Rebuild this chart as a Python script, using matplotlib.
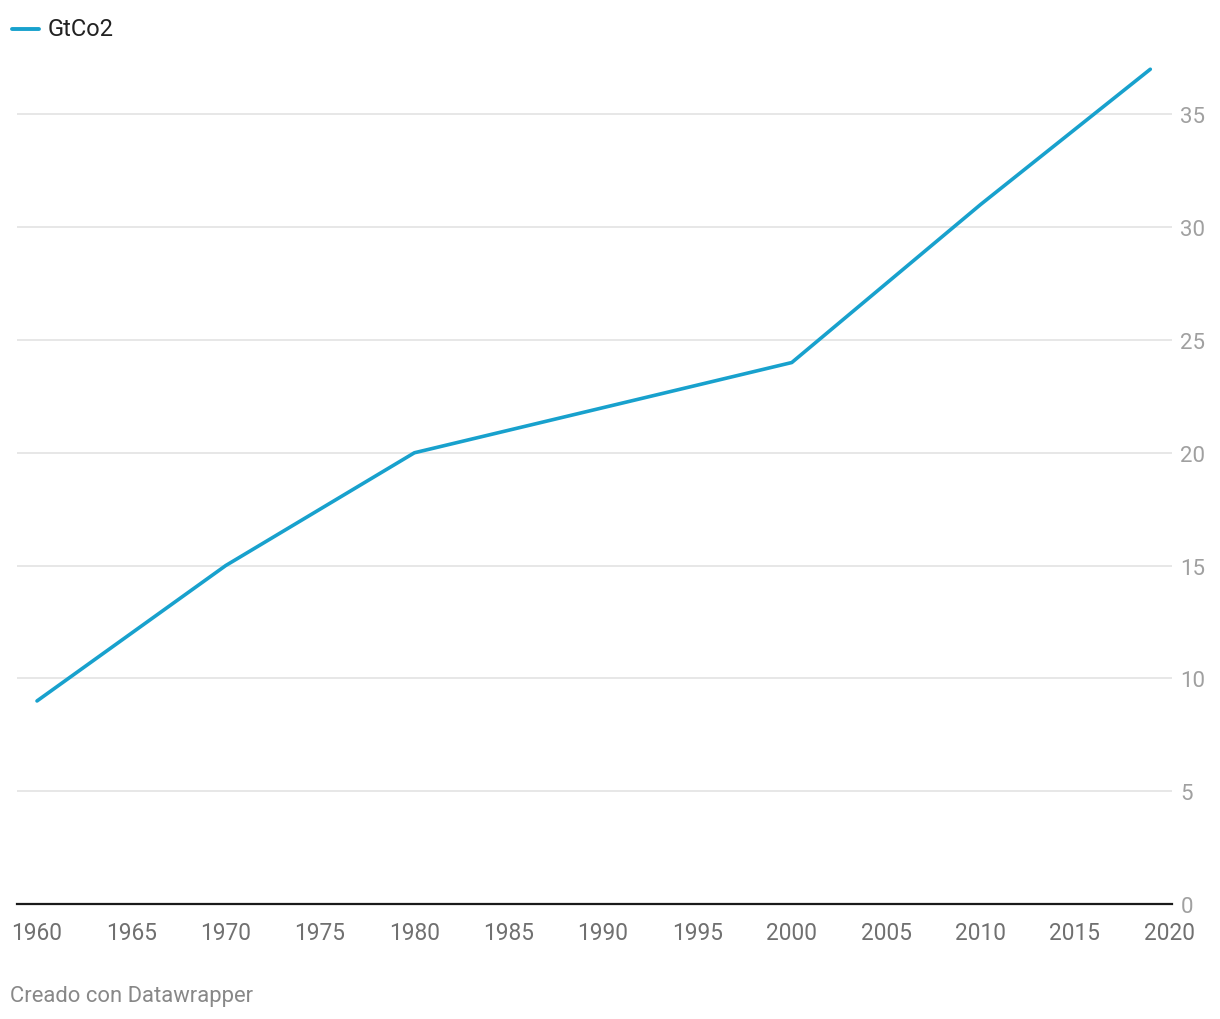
import matplotlib.pyplot as plt

plt.rcParams['font.family'] = ['Roboto', 'DejaVu Sans']

years = [1960, 1970, 1980, 2000, 2010, 2019]
gtco2 = [9, 15, 20, 24, 31, 37]
x_ticks = [1960, 1965, 1970, 1975, 1980, 1985, 1990, 1995, 2000, 2005, 2010, 2015, 2020]
y_ticks = [0, 5, 10, 15, 20, 25, 30, 35]

fig = plt.figure(figsize=(12.2, 10.2), dpi=100)
ax = fig.add_axes([17 / 1220, 115 / 1020, 1155 / 1220, 858 / 1020])

ax.plot(years, gtco2, color='#18a1cd', lw=2.6, solid_capstyle='round', zorder=3)

ax.set_xlim(1958.94, 2020.15)
ax.set_ylim(0, 38.03)

for s in ['top', 'left', 'right']:
    ax.spines[s].set_visible(False)
ax.spines['bottom'].set_color('#1a1a1a')
ax.spines['bottom'].set_linewidth(1.6)

ax.set_yticks(y_ticks)
ax.set_yticklabels([str(v) for v in y_ticks])
ax.yaxis.tick_right()
ax.tick_params(axis='y', length=0, pad=6, labelsize=16, labelcolor='#a0a0a0')
ax.grid(axis='y', color='#e3e3e3', lw=1.2)
ax.set_axisbelow(True)

ax.set_xticks(x_ticks)
ax.set_xticklabels([str(v) for v in x_ticks])
ax.tick_params(axis='x', length=0, pad=12, labelsize=16.3, labelcolor='#707070')

# legend
fig.add_artist(plt.Line2D([12 / 1220, 39 / 1220], [1 - 30 / 1020, 1 - 30 / 1020],
                          color='#18a1cd', lw=2.8, solid_capstyle='round'))
fig.text(48 / 1220, 1 - 30 / 1020, 'GtCo2', fontsize=17, color='#222222', va='center')

fig.text(10 / 1220, 1 - 997 / 1020, 'Creado con Datawrapper', fontsize=15.8,
         color='#888888', va='center')

fig.savefig('out.png', dpi=100)
